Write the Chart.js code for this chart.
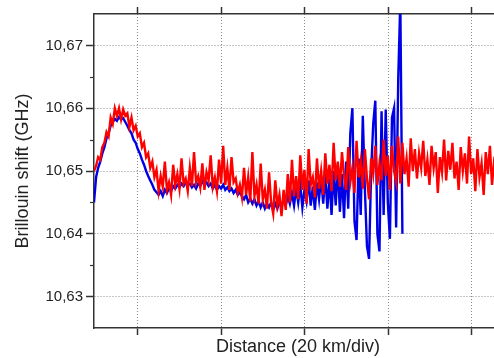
<!DOCTYPE html>
<html>
<head>
<meta charset="utf-8">
<script src="https://cdn.jsdelivr.net/npm/chart.js@4/dist/chart.umd.min.js"></script>
<style>
  html, body { margin: 0; padding: 0; background: #fff; overflow: hidden; }
  #wrap { width: 510px; height: 358px; }
</style>
</head>
<body>
<div id="wrap"><canvas id="brillouin-chart"></canvas></div>
<script>
// sample spacing along the fibre (km), both traces
const stepKm = 0.5;

// red trace, Brillouin shift (GHz)
const redShift = [
  // rise and hump
  10.650, 10.6508, 10.6522, 10.6518, 10.6538, 10.6545, 10.6562, 10.6555, 10.6585, 10.6575,
  10.660, 10.6588, 10.660, 10.6582, 10.6598, 10.6588, 10.6592, 10.657, 10.6585, 10.6565,
  10.6572, 10.6555, 10.656, 10.6538, 10.6545, 10.6522, 10.6528, 10.6505, 10.6515, 10.649,
  10.6502,
  // plateau
  10.6468, 10.6492, 10.6475, 10.6515, 10.6470, 10.6482, 10.6462, 10.6510, 10.6478, 10.6495,
  10.6472, 10.6520, 10.6480, 10.6488, 10.6468, 10.6505, 10.6476, 10.6530, 10.6482, 10.6492,
  10.6474, 10.6512, 10.6470, 10.6498, 10.6485, 10.6525, 10.6475, 10.6490, 10.6468, 10.6518,
  10.6480, 10.6540, 10.6478, 10.6505, 10.6470, 10.6522, 10.6482, 10.6488, 10.6465, 10.6478,
  // dip
  10.6458, 10.6505, 10.6462, 10.6490, 10.6452, 10.6530, 10.6460, 10.6478, 10.6448, 10.6512,
  10.6455, 10.6470, 10.6440, 10.6498, 10.6450, 10.6432, 10.6485, 10.6445, 10.6462, 10.6428,
  10.6470, 10.6438, 10.6495, 10.6450,
  // recovery
  10.6518, 10.6460, 10.6492, 10.6455, 10.6525, 10.6470,
  10.6502, 10.6448, 10.6535, 10.6478, 10.6490, 10.6458, 10.6520, 10.6472, 10.6500, 10.6462,
  10.6528, 10.6480, 10.6510, 10.6468, 10.6545, 10.6485, 10.6515, 10.6475, 10.6530, 10.6492,
  10.6470, 10.6538, 10.6482, 10.6505, 10.6465, 10.6548, 10.6490, 10.6515, 10.6472, 10.6535,
  10.6488, 10.6455, 10.6520, 10.6495, 10.6540, 10.6478, 10.6512, 10.6485, 10.6550, 10.6492,
  10.6525, 10.6470, 10.6540, 10.6500, 10.6482, 10.6555,
  // far end
  10.6480, 10.6545, 10.6495, 10.6520,
  10.6475, 10.6552, 10.6500, 10.6535, 10.6488, 10.6528, 10.6505, 10.6548, 10.6492, 10.6518,
  10.6478, 10.6540, 10.6505, 10.6530, 10.6465, 10.6522, 10.6498, 10.6550, 10.6485, 10.6532,
  10.6502, 10.6545, 10.6488, 10.6515, 10.6470, 10.6538, 10.6500, 10.6528, 10.6480, 10.6555,
  10.6495, 10.6520, 10.6468, 10.6535, 10.6490, 10.6512, 10.6462, 10.6530, 10.6495, 10.6540,
  10.6478, 10.6515, 10.6505
];

// blue trace, Brillouin shift (GHz)
const blueShift = [
  // rise and hump
  10.6450, 10.6490, 10.6505, 10.6515, 10.6528, 10.6538, 10.6552, 10.6560, 10.6572, 10.6578,
  10.6583, 10.6580, 10.6586, 10.6582, 10.6584, 10.6578, 10.6572, 10.6565, 10.6560, 10.6550,
  10.6545, 10.6535, 10.6528, 10.6518, 10.6510, 10.6500, 10.6492, 10.6485, 10.6478, 10.6470,
  10.6466,
  // plateau
  10.6462, 10.6468, 10.6460, 10.6470, 10.6465, 10.6472, 10.6468, 10.6476, 10.6472, 10.6478,
  10.6474, 10.6480, 10.6476, 10.6482, 10.6478, 10.6480, 10.6474, 10.6478, 10.6472, 10.6480,
  10.6476, 10.6484, 10.6478, 10.6482, 10.6476, 10.6480, 10.6472, 10.6478, 10.6470, 10.6476,
  10.6472, 10.6478, 10.6470, 10.6474, 10.6468, 10.6472, 10.6465, 10.6470, 10.6462, 10.6466,
  // dip
  10.6460, 10.6455, 10.6462, 10.6450, 10.6456, 10.6448, 10.6455, 10.6445, 10.6452, 10.6442,
  10.6450, 10.6440, 10.6448, 10.6442, 10.6450, 10.6438, 10.6448, 10.6440, 10.6452, 10.6442,
  10.6455, 10.6445, 10.6460, 10.6448,
  // growing noise
  10.6465, 10.6445, 10.6472, 10.6450, 10.6478, 10.6442,
  10.6470, 10.6452, 10.6485, 10.6445, 10.6475, 10.6438, 10.6482, 10.6455, 10.6490, 10.6448,
  10.6495, 10.6440, 10.6488, 10.6430, 10.6500, 10.6445, 10.6510, 10.6435, 10.6495, 10.6425,
  // strong fluctuations, then the spike at the end
  10.6515, 10.6440, 10.6560, 10.6600, 10.6420, 10.6390, 10.6520, 10.6430, 10.6588, 10.6470,
  10.6380, 10.6360, 10.6500, 10.6575, 10.6612, 10.6400, 10.6372, 10.6595, 10.6430, 10.6598,
  10.6450, 10.6392, 10.6585, 10.6600, 10.6410, 10.6647, 10.6770, 10.6400
];

// axis ticks
const xTickKm = [10.55, 30.55, 50.55, 70.55, 90.55];
const yMajor = [10.63, 10.64, 10.65, 10.66, 10.67];
const yMinor = [10.635, 10.645, 10.655, 10.665];

const toPoints = arr => arr.map((v, i) => ({ x: i * stepKm, y: v }));

const axisColor = '#333';
const gridColor = '#8c8c8c';
const fontFamily = '"Liberation Sans", Arial, Helvetica, sans-serif';

// short minor ticks on the left axis
const minorTicks = {
  id: 'minorTicks',
  afterDraw(chart) {
    const y = chart.scales.y;
    const ctx = chart.ctx;
    const x0 = chart.chartArea.left;
    ctx.save();
    ctx.strokeStyle = axisColor;
    ctx.lineWidth = 1.2;
    yMinor.forEach(v => {
      const py = Math.round(y.getPixelForValue(v)) + 0.5;
      ctx.beginPath();
      ctx.moveTo(x0 - 4, py);
      ctx.lineTo(x0, py);
      ctx.stroke();
    });
    ctx.restore();
  }
};

new Chart(document.getElementById('brillouin-chart'), {
  type: 'line',
  data: {
    datasets: [
      {
        data: toPoints(redShift),
        borderColor: '#ff0000',
        borderWidth: 2.4,
        pointRadius: 0,
        tension: 0
      },
      {
        data: toPoints(blueShift),
        borderColor: '#0000e6',
        borderWidth: 2.4,
        pointRadius: 0,
        tension: 0
      }
    ]
  },
  options: {
    responsive: true,
    maintainAspectRatio: false,
    animation: false,
    layout: { padding: { left: 0, right: 8, top: 0, bottom: 0 } },
    plugins: { legend: { display: false }, tooltip: { enabled: false } },
    scales: {
      x: {
        type: 'linear',
        position: 'bottom',
        min: 0,
        max: 97.9,
        afterBuildTicks: s => { s.ticks = xTickKm.map(v => ({ value: v })); },
        afterFit: s => { s.height = 30; },
        ticks: { display: false },
        grid: {
          color: gridColor,
          lineWidth: 1,
          tickLength: 7,
          tickColor: axisColor,
          tickWidth: 1.5,
          tickBorderDash: []
        },
        border: { color: axisColor, width: 1.5, dash: [1, 2] },
        title: {
          display: true,
          text: 'Distance (20 km/div)',
          color: '#222',
          font: { family: fontFamily, size: 18 },
          padding: { top: 0, bottom: 0 }
        }
      },
      xTop: {
        type: 'linear',
        position: 'top',
        min: 0,
        max: 97.9,
        afterBuildTicks: s => { s.ticks = xTickKm.map(v => ({ value: v })); },
        afterFit: s => { s.height = 14; },
        ticks: { display: false },
        grid: {
          drawOnChartArea: false,
          tickLength: 7,
          tickColor: axisColor,
          tickWidth: 1.5
        },
        border: { color: axisColor, width: 1.5 }
      },
      y: {
        min: 10.625,
        max: 10.675,
        afterBuildTicks: s => { s.ticks = yMajor.map(v => ({ value: v })); },
        afterFit: s => { s.width = 94; },
        ticks: {
          color: '#222',
          padding: 3,
          font: { family: fontFamily, size: 15 },
          callback: v => v.toFixed(2).replace('.', ',')
        },
        grid: {
          color: gridColor,
          lineWidth: 1,
          tickLength: 8,
          tickColor: axisColor,
          tickWidth: 1.5,
          tickBorderDash: []
        },
        border: { color: axisColor, width: 1.5, dash: [1, 2] },
        title: {
          display: true,
          text: 'Brillouin shift (GHz)',
          color: '#222',
          font: { family: fontFamily, size: 18 },
          padding: { top: 12, bottom: 0 }
        }
      }
    }
  },
  plugins: [minorTicks]
});
</script>
</body>
</html>
